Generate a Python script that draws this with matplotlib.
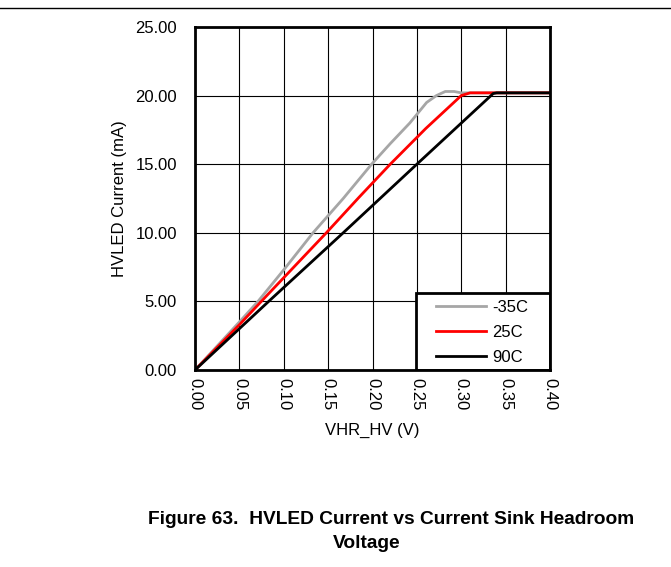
import numpy as np
import matplotlib
matplotlib.use('Agg')
from matplotlib import pyplot as plt
from matplotlib.patches import Rectangle

plt.rcParams['font.family'] = ['Liberation Sans', 'DejaVu Sans']

# headroom voltage (V) and sink current (mA)
v_m35 = [0.0, 0.02, 0.05, 0.071, 0.10, 0.133, 0.167, 0.199, 0.22, 0.242, 0.261, 0.272, 0.282, 0.292, 0.30, 0.40]
i_m35 = [0.0, 1.4, 3.5, 5.0, 7.3, 10.0, 12.5, 15.0, 16.5, 18.0, 19.5, 20.0, 20.3, 20.3, 20.2, 20.2]

v_25 = [0.0, 0.05, 0.082, 0.148, 0.185, 0.22, 0.26, 0.30, 0.31, 0.40]
i_25 = [0.0, 3.3, 5.5, 10.0, 12.6, 15.0, 17.6, 20.0, 20.2, 20.2]

v_90 = [0.0, 0.083, 0.167, 0.25, 0.336, 0.34, 0.40]
i_90 = [0.0, 5.0, 10.0, 15.0, 20.15, 20.2, 20.2]

labels = ['-35C', '25C', '90C']
colors = ['#a6a6a6', '#ff0000', '#000000']

xticks = np.arange(0, 0.41, 0.05)
yticks = np.arange(0, 25.1, 5)

fs = 12
fig = plt.figure(figsize=(6.71, 5.67), dpi=100)
ax = fig.add_axes([195/671, 1-370/567, 355/671, 343/567])

ax.plot(v_m35, i_m35, color=colors[0], lw=2, label=labels[0])
ax.plot(v_25, i_25, color=colors[1], lw=2, label=labels[1])
ax.plot(v_90, i_90, color=colors[2], lw=2, label=labels[2])

ax.set_xlim(0, 0.40)
ax.set_ylim(0, 25)
ax.set_xticks(xticks)
ax.set_yticks(yticks)
ax.set_xticklabels(['%.2f' % t for t in xticks], rotation=-90, fontsize=fs)
ax.set_yticklabels(['%.2f' % t for t in yticks], fontsize=fs)
ax.tick_params(axis='x', length=0, pad=6)
ax.tick_params(axis='y', length=0, pad=13)
ax.grid(True, color='black', lw=0.8)
ax.set_axisbelow(True)
for s in ax.spines.values():
    s.set_linewidth(2)
    s.set_zorder(5)

ax.set_xlabel('VHR_HV (V)', fontsize=fs, labelpad=9)
ax.set_ylabel('HVLED Current (mA)', fontsize=fs, labelpad=6)

# legend box drawn separately so the padding matches
box_x0 = (416 - 195) / 355
box_y1 = (370 - 293) / 343
ax.add_patch(Rectangle((box_x0, 0), 1 - box_x0, box_y1, transform=ax.transAxes,
                       facecolor='white', edgecolor='black', lw=2, zorder=4))
leg = ax.legend(loc='upper left', bbox_to_anchor=((436 - 195) / 355, (370 - 300) / 343),
                frameon=False, fontsize=fs, borderaxespad=0, borderpad=0,
                handlelength=3.0, labelspacing=0.6, handletextpad=0.35)
leg.set_zorder(6)

fig.add_artist(plt.Line2D([0, 1], [1-8/567, 1-8/567], color='black', lw=1))

fig.text(391/671, 1-519/567, 'Figure 63.  HVLED Current vs Current Sink Headroom',
         ha='center', va='center', fontsize=13.8, fontweight='bold')
fig.text(367/671, 1-543/567, 'Voltage', ha='center', va='center',
         fontsize=13.8, fontweight='bold')

fig.savefig('out.png', dpi=100)
